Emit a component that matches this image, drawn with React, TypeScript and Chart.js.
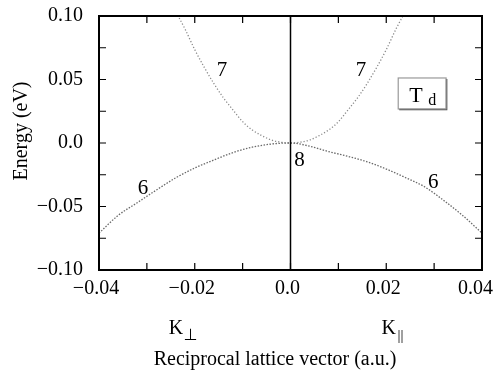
import React, { useEffect, useRef } from 'react';
import { Chart, registerables } from 'chart.js';

Chart.register(...registerables);

// Band 6 (heavy band), reciprocal lattice vector vs energy (eV)
const band6K = [-0.04, -0.036, -0.032, -0.028, -0.024, -0.02, -0.016, -0.012, -0.008, -0.004, 0, 0.004, 0.008, 0.012, 0.016, 0.02, 0.024, 0.028, 0.032, 0.036, 0.04];
const band6E = [-0.071, -0.057, -0.047, -0.037, -0.0275, -0.0197, -0.0134, -0.0075, -0.0033, -0.0008, 0, -0.0025, -0.0068, -0.0105, -0.0148, -0.0205, -0.0272, -0.0345, -0.0452, -0.0572, -0.071];

// Band 7 (light band)
const band7K = [-0.0242, -0.022, -0.02, -0.018, -0.016, -0.014, -0.012, -0.01, -0.008, -0.006, -0.004, -0.002, 0, 0.002, 0.004, 0.006, 0.008, 0.01, 0.012, 0.014, 0.016, 0.018, 0.02, 0.022, 0.0242];
const band7E = [0.105, 0.0895, 0.0735, 0.0595, 0.0468, 0.0355, 0.026, 0.0168, 0.0103, 0.0058, 0.0024, 0.0006, 0, 0.0006, 0.0024, 0.0058, 0.0103, 0.0168, 0.026, 0.0355, 0.0468, 0.0595, 0.0735, 0.0895, 0.105];

// Tick labels
const xTickValues = [-0.04, -0.02, 0, 0.02, 0.04];
const xTickLabels = ['\u22120.04', '\u22120.02', '0.0', '0.02', '0.04'];
const yTickValues = [-0.1, -0.05, 0, 0.05, 0.1];
const yTickLabels = ['\u22120.10', '\u22120.05', '0.0', '0.05', '0.10'];

// Band labels placed in data coordinates
const bandLabelText = ['7', '7', '6', '6', '8'];
const bandLabelK = [-0.0143, 0.0147, -0.0308, 0.0298, 0.0019];
const bandLabelE = [0.057, 0.057, -0.0358, -0.031, -0.0138];

const SERIF = '"Liberation Serif", "Times New Roman", Times, serif';

function findLabel(v: number, vals: number[], labels: string[]) {
  for (let i = 0; i < vals.length; i++) {
    if (Math.abs(vals[i] - v) < 1e-6) return labels[i];
  }
  return '';
}

const decorPlugin = {
  id: 'decor',
  afterDraw(chart: any) {
    const { ctx, chartArea } = chart;
    const xs = chart.scales.x;
    const ys = chart.scales.y;
    const { left, right, top, bottom } = chartArea;
    ctx.save();

    // vertical line at k = 0
    const x0 = xs.getPixelForValue(0);
    ctx.strokeStyle = '#000';
    ctx.lineWidth = 1.5;
    ctx.beginPath();
    ctx.moveTo(x0, top);
    ctx.lineTo(x0, bottom);
    ctx.stroke();

    // inside ticks
    const tl = 7;
    ctx.lineWidth = 1.2;
    ctx.beginPath();
    xs.ticks.forEach((t: any) => {
      const px = xs.getPixelForValue(t.value);
      ctx.moveTo(px, bottom);
      ctx.lineTo(px, bottom - tl);
      ctx.moveTo(px, top);
      ctx.lineTo(px, top + tl);
    });
    ys.ticks.forEach((t: any) => {
      const py = ys.getPixelForValue(t.value);
      ctx.moveTo(left, py);
      ctx.lineTo(left + tl, py);
      ctx.moveTo(right, py);
      ctx.lineTo(right - tl, py);
    });
    ctx.stroke();

    // frame
    ctx.lineWidth = 2;
    ctx.strokeRect(left, top, right - left, bottom - top);

    // x tick labels (kept inside the canvas)
    ctx.fillStyle = '#000';
    ctx.font = `20px ${SERIF}`;
    ctx.textAlign = 'left';
    ctx.textBaseline = 'top';
    const W = chart.width;
    for (let i = 0; i < xTickValues.length; i++) {
      const w = ctx.measureText(xTickLabels[i]).width;
      let x = xs.getPixelForValue(xTickValues[i]) - w / 2 - 3;
      if (x + w > W) x = W - w;
      ctx.fillText(xTickLabels[i], x, bottom + 9);
    }

    // band labels
    ctx.font = `21px ${SERIF}`;
    ctx.textAlign = 'center';
    ctx.textBaseline = 'middle';
    for (let i = 0; i < bandLabelText.length; i++) {
      ctx.fillText(bandLabelText[i], xs.getPixelForValue(bandLabelK[i]), ys.getPixelForValue(bandLabelE[i]));
    }

    // Td box
    const bx1 = xs.getPixelForValue(0.0225);
    const bx2 = xs.getPixelForValue(0.0325);
    const by1 = ys.getPixelForValue(0.0512);
    const by2 = ys.getPixelForValue(0.0268);
    ctx.strokeStyle = '#444';
    ctx.lineWidth = 1.5;
    ctx.beginPath();
    ctx.moveTo(bx1 + 1, by2 + 0.5);
    ctx.lineTo(bx2 + 0.5, by2 + 0.5);
    ctx.lineTo(bx2 + 0.5, by1 + 1);
    ctx.stroke();
    ctx.strokeStyle = '#999';
    ctx.lineWidth = 1.2;
    ctx.strokeRect(bx1, by1, bx2 - bx1, by2 - by1);
    ctx.fillStyle = '#000';
    ctx.textAlign = 'left';
    ctx.textBaseline = 'alphabetic';
    ctx.font = `22px ${SERIF}`;
    ctx.fillText('T', bx1 + 11, by1 + 24);
    ctx.font = `16px ${SERIF}`;
    ctx.fillText('d', bx1 + 30, by1 + 27);

    // K labels
    ctx.font = `20px ${SERIF}`;
    const kp = xs.getPixelForValue(-0.0225);
    ctx.fillText('K', kp - 14, 334);
    ctx.font = `16px "DejaVu Sans", sans-serif`;
    ctx.fillText('\u22a5', kp + 1, 340);
    ctx.font = `20px ${SERIF}`;
    const kq = xs.getPixelForValue(0.0215);
    ctx.fillText('K', kq - 12, 334);
    ctx.font = `15px ${SERIF}`;
    ctx.fillText('||', kq + 4, 340);

    // x axis title
    ctx.font = `20px ${SERIF}`;
    ctx.textAlign = 'center';
    ctx.fillText('Reciprocal lattice vector (a.u.)', 275, 365);

    // y axis title
    ctx.save();
    ctx.translate(27, 131);
    ctx.rotate(-Math.PI / 2);
    ctx.textBaseline = 'alphabetic';
    ctx.fillText('Energy (eV)', 0, 0);
    ctx.restore();

    ctx.restore();
  },
};

function zeroPad(s: any) {
  s.paddingTop = 0;
  s.paddingBottom = 0;
  s.paddingLeft = 0;
  s.paddingRight = 0;
}

export default function App() {
  const ref = useRef<HTMLCanvasElement>(null);
  useEffect(() => {
    if (!ref.current) return;
    const chart = new Chart(ref.current, {
      type: 'scatter',
      data: {
        datasets: [
          {
            label: '6',
            data: band6K.map((k, i) => ({ x: k, y: band6E[i] })),
            showLine: true,
            pointRadius: 0,
            borderColor: '#6a6a6a',
            borderWidth: 1.3,
            borderDash: [1.5, 1.5],
            cubicInterpolationMode: 'monotone',
          },
          {
            label: '7',
            data: band7K.map((k, i) => ({ x: k, y: band7E[i] })),
            showLine: true,
            pointRadius: 0,
            borderColor: '#8a8a8a',
            borderWidth: 1.3,
            borderDash: [1.2, 2],
            cubicInterpolationMode: 'monotone',
          },
        ],
      },
      options: {
        animation: false,
        responsive: false,
        layout: { padding: { left: 0, top: 16, right: 11, bottom: 0 }, autoPadding: false },
        plugins: { legend: { display: false }, tooltip: { enabled: false } },
        scales: {
          x: {
            type: 'linear',
            min: -0.04,
            max: 0.04,
            grid: { display: false, drawTicks: false },
            border: { display: false },
            ticks: {
              stepSize: 0.01,
              autoSkip: false,
              maxRotation: 0,
              padding: 8,
              color: '#000',
              font: { family: SERIF, size: 20 },
              callback: () => '',
            },
            afterFit: (s: any) => { s.height = 105; zeroPad(s); },
          },
          y: {
            type: 'linear',
            min: -0.1,
            max: 0.1,
            grid: { display: false, drawTicks: false },
            border: { display: false },
            ticks: {
              stepSize: 0.025,
              autoSkip: false,
              padding: 16,
              color: '#000',
              font: { family: SERIF, size: 20 },
              callback: (v: any) => findLabel(Number(v), yTickValues, yTickLabels),
            },
            afterFit: (s: any) => { s.width = 99; zeroPad(s); },
          },
        },
      },
      plugins: [decorPlugin],
    } as any);
    return () => chart.destroy();
  }, []);
  return (
    <div style={{ position: 'fixed', left: 0, top: 0, width: 493, height: 375, background: '#fff' }}>
      <canvas ref={ref} width={493} height={375} />
    </div>
  );
}
